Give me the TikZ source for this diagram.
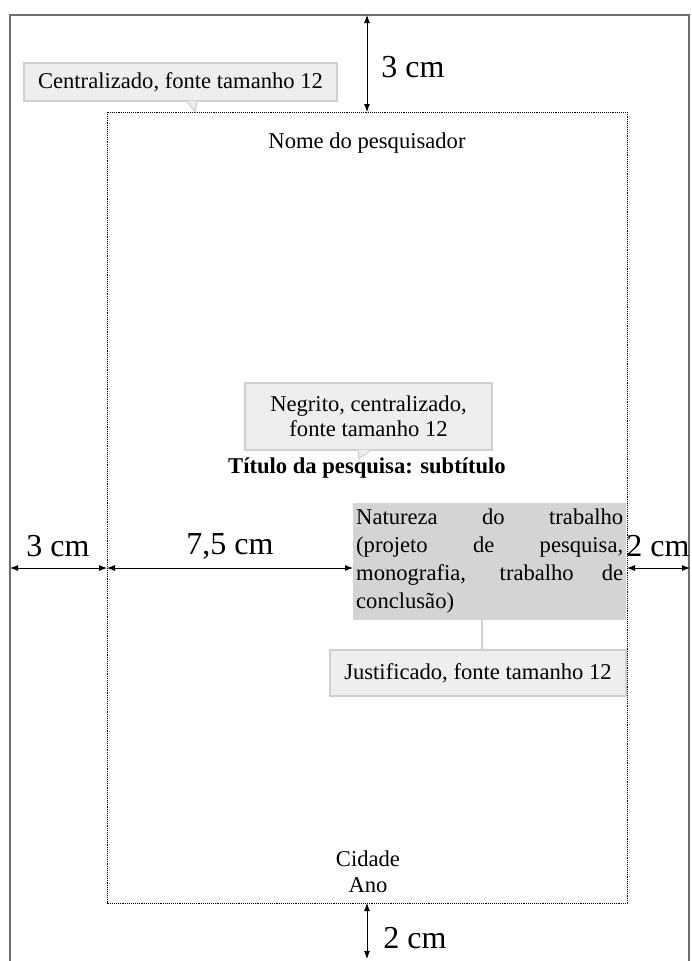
\documentclass[tikz,border=0pt]{standalone}
\usepackage{fontspec}
\setmainfont{Liberation Serif}
\usepackage{tikz}
\usetikzlibrary{arrows.meta,positioning,calc}
\definecolor{noteFill}{HTML}{EEEEEE}
\definecolor{noteDraw}{HTML}{D0D0D0}
\definecolor{boxFill}{HTML}{D4D4D4}
\definecolor{pageDraw}{HTML}{6E6E6E}
\newcommand{\fsBody}{\fontsize{22.6}{27}\selectfont}
\newcommand{\fsDim}{\fontsize{32}{36}\selectfont}
\tikzset{
  >=Latex,
  every node/.append style={font=\fsBody},
}
\tikzset{
  page/.style={draw=pageDraw, line width=1.5pt},
  area/.style={draw=black, densely dotted, line width=0.9pt},
  dim/.style={{Latex[length=8pt,width=6pt]}-{Latex[length=8pt,width=6pt]}, line width=0.9pt},
  link/.style={draw=noteDraw, line width=1.6pt}
}

\begin{document}
\begin{tikzpicture}[
  x=1pt, y=-1pt,
  dimlabel/.style={font=\fsDim, inner sep=0pt},
  note/.style={rectangle, fill=noteFill, draw=noteDraw, line width=1.2pt, align=center, inner sep=4pt},
  natureza/.style={rectangle, fill=boxFill, align=left, inner xsep=3pt, inner ysep=6pt, font=\fontsize{22.6}{28}\selectfont}
]
\useasboundingbox (0,0) rectangle (692,961);

% Page edges
\coordinate (pageSW) at (10,961);
\coordinate (pageNW) at (10,15);
\coordinate (pageNE) at (689,15);
\coordinate (pageSE) at (689,961);
\draw[page] (pageSW) -- (pageNW) -- (pageNE) -- (pageSE);

% Text area (margins)
\coordinate (areaNW) at (107,112);
\coordinate (areaSE) at (627,903);
\draw[area] (areaNW) rectangle (areaSE);

% Contents of the page
\node (nome) at (367,143) {Nome do pesquisador};
\node[font=\fsBody\bfseries] (titulo) at (367,468) {Título da pesquisa: subtítulo};
\node[align=center, font=\fontsize{22.6}{26}\selectfont] (cidade) at (368,872) {Cidade\\Ano};
\node[natureza, anchor=north west] (natureza) at (353,503) {%
  \makebox[267pt][s]{Natureza do trabalho}\\
  \makebox[267pt][s]{(projeto de pesquisa,}\\
  \makebox[267pt][s]{monografia, trabalho de}\\
  conclusão)};

% Notes
\node[note, minimum width=313pt, minimum height=38pt] (nota1) at (180.5,82) {Centralizado, fonte tamanho 12};
\fill[noteFill] ([xshift=6.5pt, yshift=0.7pt]nota1.south) -- ([xshift=16.5pt, yshift=0.7pt]nota1.south) -- ([xshift=14.5pt, yshift=-10pt]nota1.south) -- cycle;
\draw[noteDraw, line width=1.2pt] ([xshift=6.5pt]nota1.south) -- ([xshift=14.5pt, yshift=-10pt]nota1.south) -- ([xshift=16.5pt]nota1.south);

\node[note, minimum width=247pt, minimum height=67pt, font=\fontsize{22.6}{25.5}\selectfont] (nota2) at (368.5,416.5) {Negrito, centralizado,\\fonte tamanho 12};
\fill[noteFill] ([xshift=-10.5pt, yshift=0.7pt]nota2.south) -- ([xshift=1.5pt, yshift=0.7pt]nota2.south) -- ([xshift=-9.5pt, yshift=-8pt]nota2.south) -- cycle;
\draw[noteDraw, line width=1.2pt] ([xshift=-10.5pt]nota2.south) -- ([xshift=-9.5pt, yshift=-8pt]nota2.south) -- ([xshift=1.5pt]nota2.south);

\node[note, minimum width=296pt, minimum height=46pt] (nota3) at (478,673) {Justificado, fonte tamanho 12};
\draw[link] ([xshift=-7.5pt]natureza.south) -- ([xshift=-7.5pt]natureza.south |- nota3.north);

% Margin dimensions
\coordinate (topDim) at (367,15);
\coordinate (botDim) at (367,959);
\draw[dim] (topDim) -- (topDim |- areaNW);
\draw[dim] (botDim |- areaSE) -- (botDim);
\node[dimlabel] (topLabel) at (413,67) {3 cm};
\node[dimlabel] (botLabel) at (415,938) {2 cm};

\coordinate (rowL) at (10,568);
\coordinate (rowA) at (107,568);
\coordinate (rowR) at (627,568);
\coordinate (rowE) at (690,568);
\draw[dim] (rowL) -- (rowA);
\draw[dim] (rowA) -- (natureza.west |- rowA);
\draw[dim] (rowR) -- (rowE);
\node[dimlabel] (leftLabel) at (58,546) {3 cm};
\node[dimlabel] (midLabel) at (230,546) {7,5 cm};
\node[dimlabel] (rightLabel) at (658,546) {2 cm};

\end{tikzpicture}
\end{document}
